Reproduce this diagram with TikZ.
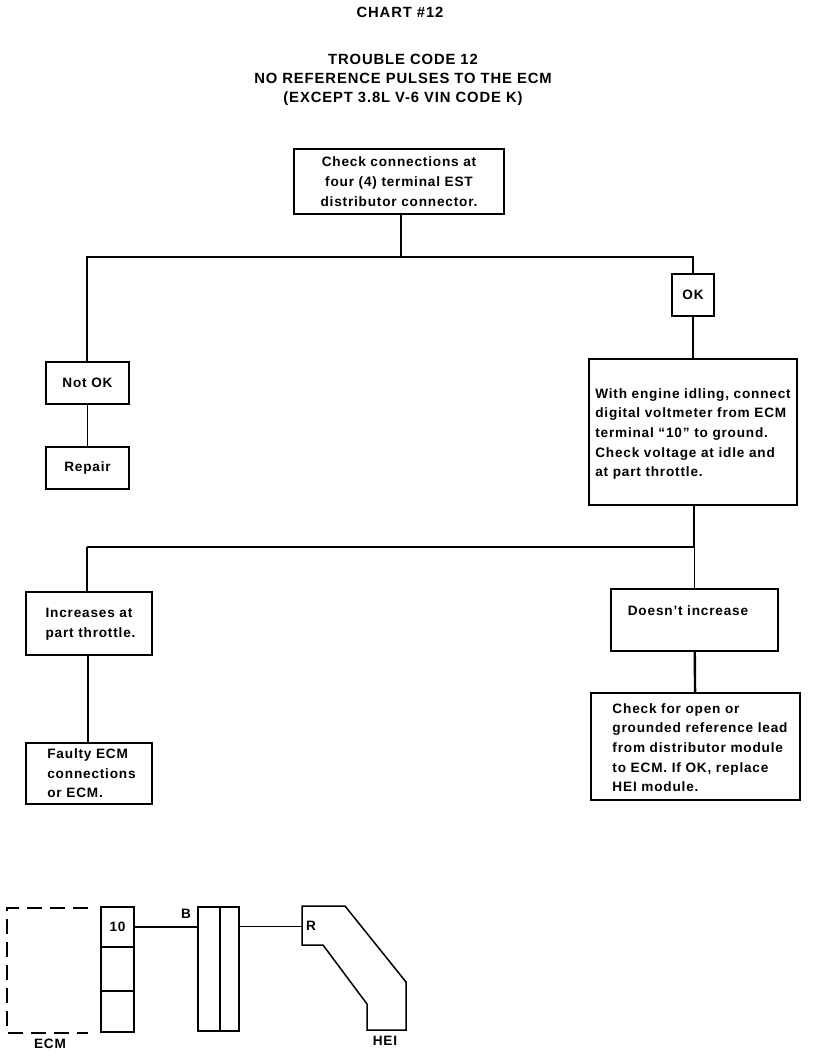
\documentclass[tikz,border=0pt]{standalone}
\usepackage{fontspec}
\setmainfont{Liberation Sans}[LetterSpace=6]
\begin{document}
\begin{tikzpicture}[x=1pt, y=-1pt,
	every node/.style = {font=\bfseries\fontsize{13.6}{19.7}\selectfont},
	main/.style = {draw, line width=1.8pt, inner sep=0, align=left},
	caption/.style = {inner sep=0, align=center, font=\bfseries\fontsize{14.8}{19}\selectfont},
	tag/.style = {inner sep=0},
	pin/.style = {draw, line width=2.2pt, inner sep=0},
	heavy/.style = {line width=2.4pt},
	medium/.style = {line width=1.7pt},
	light/.style = {line width=1pt}]
	\useasboundingbox (0, 0) rectangle (816, 1056);
	\node[caption] (chart) at (400, 12){CHART \#12};
	\node[caption] (title) at (403, 79.5){TROUBLE CODE 12\\NO REFERENCE PULSES TO THE ECM\\(EXCEPT 3.8L V-6 VIN CODE K)};
	\node[main, align=center, minimum width=210, minimum height=65] (check) at (399, 181.5){Check connections at\\four (4) terminal EST\\distributor connector.};
	\node[main, minimum width=42, minimum height=42] (ok) at (693, 295){OK};
	\node[main, minimum width=83, minimum height=42] (notok) at (87.5, 383){Not OK};
	\node[main, minimum width=83, minimum height=42] (repair) at (87.5, 468){Repair};
	\node[main, minimum width=208, minimum height=146] (idle) at (693, 432){\rule{0pt}{14pt}With engine idling, connect\\digital voltmeter from ECM\\terminal ``10'' to ground.\\Check voltage at idle and\\at part throttle.};
	\node[main, minimum width=126, minimum height=63] (rises) at (89, 623.5){\hspace*{3pt}\begin{tabular}{@{}l@{}}Increases at\\part throttle.\end{tabular}};
	\node[main, minimum width=167, minimum height=62] (flat) at (694.5, 620){Doesn't increase\hspace*{13pt}\\\ };
	\node[main, minimum width=126, minimum height=61] (faulty) at (89, 773.5){\hspace*{5pt}\begin{tabular}{@{}l@{}}\rule{0pt}{15pt}Faulty ECM\\connections\\or ECM.\end{tabular}};
	\node[main, minimum width=209, minimum height=107] (lead) at (695.5, 746.5){\hspace*{9pt}\begin{tabular}{@{}l@{}}\rule{0pt}{18pt}Check for open or\\grounded reference lead\\from distributor module\\to ECM. If OK, replace\\HEI module.\end{tabular}};
	\coordinate (topbus) at (401, 257);
	\coordinate (lowbus) at (694, 547);
	\coordinate (risesbus) at (87, 547);
	\coordinate (faultline) at (88, 700);
	\draw[heavy] (check.south -| topbus) -- (topbus);
	\draw[heavy] (notok.north -| risesbus) |- (topbus);
	\draw[heavy] (topbus) -| (ok.north);
	\draw[medium] (ok) -- (idle);
	\draw[light] (notok) -- (repair);
	\draw[medium] (idle.south -| lowbus) -- (lowbus);
	\draw[light] (lowbus) -- (flat.north -| lowbus);
	\draw[medium] (risesbus) -- (lowbus);
	\draw[medium] (rises.north -| risesbus) -- (risesbus);
	\draw[heavy] (rises.south -| faultline) -- (faulty.north -| faultline);
	\draw[heavy] (flat) -- (lead);
	\draw[line width=1.5pt, dash pattern=on 15pt off 8pt] (88, 908) -- (7, 908) -- (7, 1033) -- (88, 1033);
	\node[tag] (ecm) at (50, 1044){ECM};
	\node[pin, minimum width=33, minimum height=40] (ten) at (117.5, 927){10};
	\node[pin, minimum width=33, minimum height=44] (pinb) at (117.5, 969){};
	\node[pin, minimum width=33, minimum height=41] (pinc) at (117.5, 1011.5){};
	\node[draw, line width=1.5pt, minimum width=22, minimum height=124] (leftcon) at (209, 969){};
	\node[draw, line width=1.5pt, minimum width=19, minimum height=124] (rightcon) at (229.5, 969){};
	\draw[line width=1.5pt] (302, 906) -- (345, 906) -- (406, 982) -- (406, 1030) -- (367, 1030) -- (367, 1004) -- (323, 945) -- (302, 945) -- cycle;
	\coordinate (heipin) at (302, 926);
	\node[tag] (wireb) at (186, 914){B};
	\node[tag] (wirer) at (311, 926){R};
	\node[tag] (hei) at (385, 1041){HEI};
	\draw[heavy] (ten.east) -- (leftcon.west |- ten.east);
	\draw[light] (rightcon.east |- heipin) -- (heipin);
\end{tikzpicture}
\end{document}
